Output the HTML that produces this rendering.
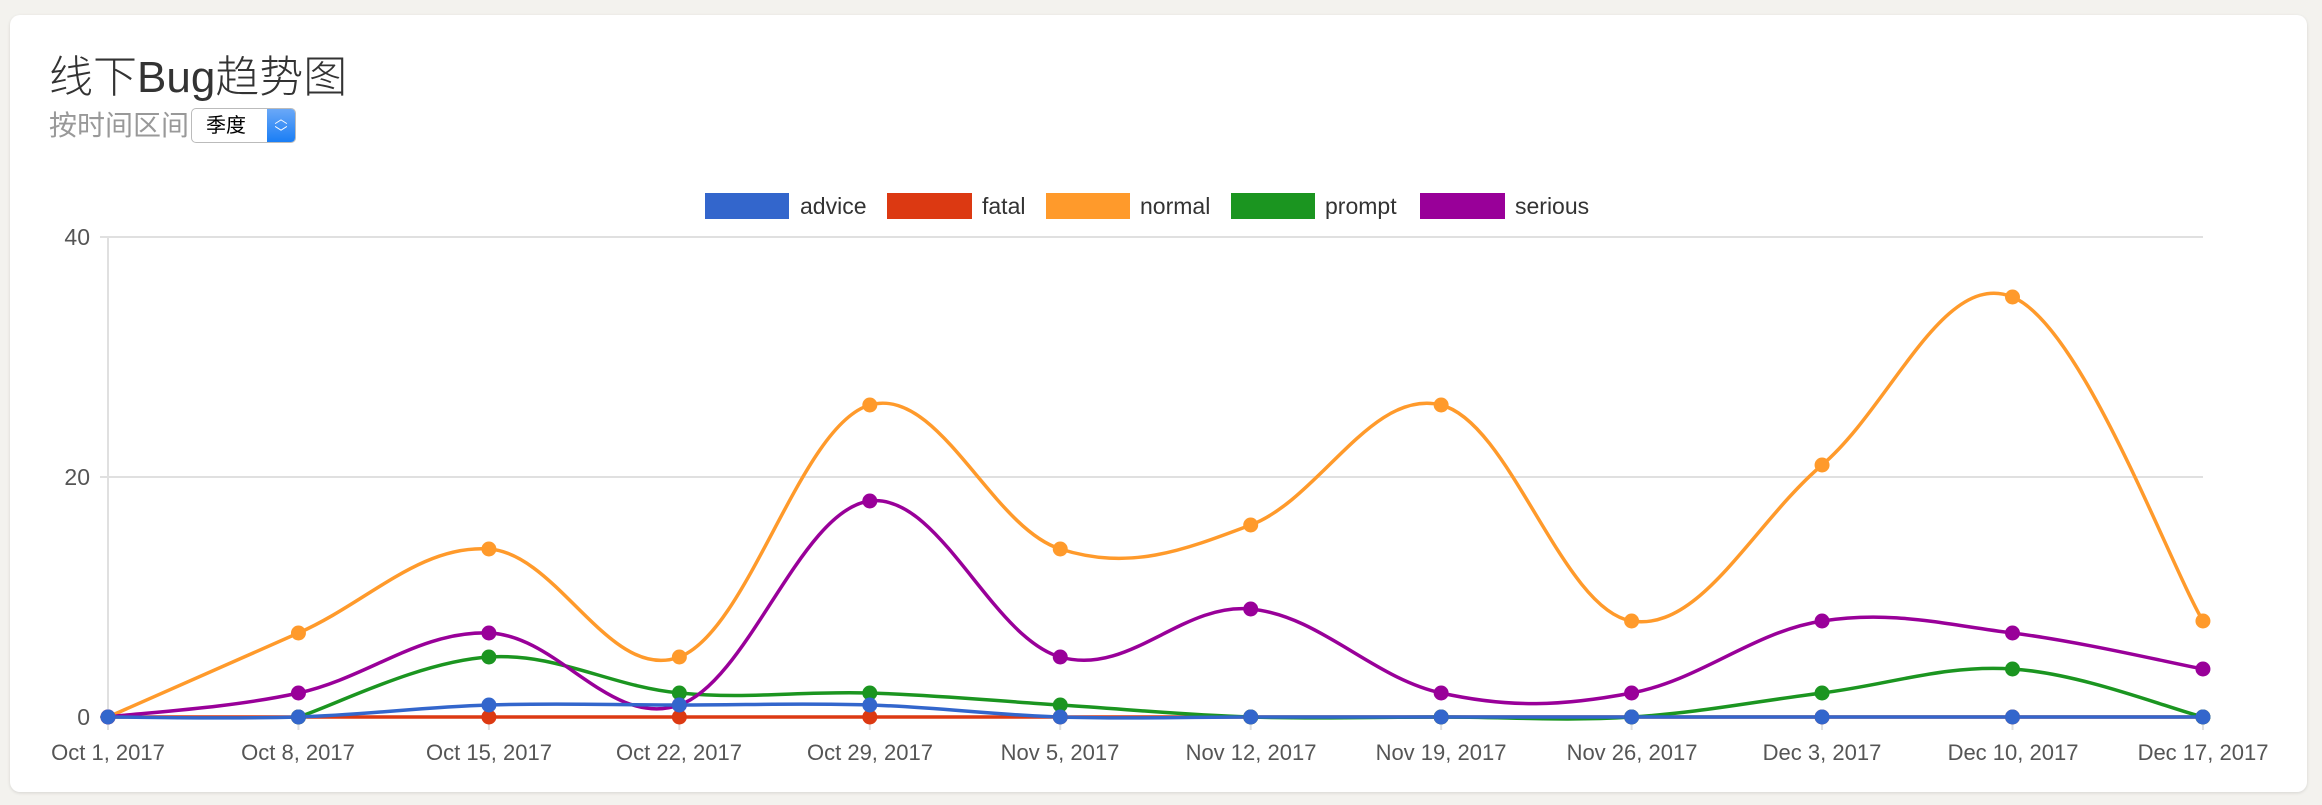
<!DOCTYPE html>
<html><head><meta charset="utf-8">
<style>
html,body{margin:0;padding:0;width:2322px;height:805px;background:#f3f2ee;overflow:hidden;font-family:"Liberation Sans","Noto Sans CJK SC",sans-serif;}
.card{position:absolute;left:10px;top:15px;width:2297px;height:777px;background:#fff;border-radius:10px;box-shadow:0 1px 3px rgba(0,0,0,0.12);}
.title{position:absolute;left:49px;top:52px;font-size:44px;color:#333;font-weight:300;line-height:52px;}
.sub{position:absolute;left:49px;top:108px;font-size:28px;color:#999;line-height:36px;}
.sel{position:absolute;left:191px;top:108px;width:105px;height:35px;border:1px solid #bbb;border-radius:5px;background:#fff;box-sizing:border-box;overflow:hidden;}
.sel span{position:absolute;left:14px;top:3px;font-size:20px;color:#000;line-height:28px;}
.sel b{position:absolute;right:0;top:0;width:28px;height:100%;background:linear-gradient(#6aa8f7,#1a7ef5);color:#fff;font-size:13px;line-height:14px;text-align:center;font-weight:normal;padding-top:3px;box-sizing:border-box;}
svg{position:absolute;left:0;top:0;}
</style></head><body>
<div class="card"></div>
<div class="title">线下Bug趋势图</div>
<div class="sub">按时间区间</div>
<div class="sel"><span>季度</span><b>︿<br>﹀</b></div>
<svg width="2322" height="805" xmlns="http://www.w3.org/2000/svg" font-family="Liberation Sans, sans-serif">
<g font-size="23" fill="#333">
<rect x="705" y="193" width="84" height="26" fill="#3366cc"/><text x="800" y="214">advice</text>
<rect x="887" y="193" width="85" height="26" fill="#dc3912"/><text x="982" y="214">fatal</text>
<rect x="1046" y="193" width="84" height="26" fill="#ff9a2b"/><text x="1140" y="214">normal</text>
<rect x="1231" y="193" width="84" height="26" fill="#1b9520"/><text x="1325" y="214">prompt</text>
<rect x="1420" y="193" width="85" height="26" fill="#990099"/><text x="1515" y="214">serious</text>
</g>
<g stroke="#e0e0e0" stroke-width="2">
<line x1="100" y1="237" x2="2203" y2="237"/>
<line x1="100" y1="477" x2="2203" y2="477"/>
<line x1="108" y1="237" x2="108" y2="730"/>
</g>
<g stroke="#e0e0e0" stroke-width="2" id="ticks"></g>
<line x1="100" y1="717" x2="2203" y2="717" stroke="#999" stroke-width="2"/>
<g font-size="23" fill="#555" text-anchor="end">
<text x="90" y="245">40</text><text x="90" y="485">20</text><text x="90" y="725">0</text>
</g>
<g font-size="22" fill="#555" text-anchor="middle">
<text x="108" y="760">Oct 1, 2017</text>
<text x="298" y="760">Oct 8, 2017</text>
<text x="489" y="760">Oct 15, 2017</text>
<text x="679" y="760">Oct 22, 2017</text>
<text x="870" y="760">Oct 29, 2017</text>
<text x="1060" y="760">Nov 5, 2017</text>
<text x="1251" y="760">Nov 12, 2017</text>
<text x="1441" y="760">Nov 19, 2017</text>
<text x="1632" y="760">Nov 26, 2017</text>
<text x="1822" y="760">Dec 3, 2017</text>
<text x="2013" y="760">Dec 10, 2017</text>
<text x="2203" y="760">Dec 17, 2017</text>
</g>
<g id="lines" fill="none" stroke-width="3.5"></g>
<g id="dots"></g>
</svg>
<script>
var X=function(i){return 108+i*190.45;},Y=function(v){return 717-v*12;};
var S=[
["#dc3912",0,[0,0,0,0,0,0,0,0,0,0,0,0]],
["#ff9a2b",0,[0,7,14,5,26,14,16,26,8,21,35,8]],
["#1b9520",1,[0,0,5,2,2,1,0,0,0,2,4,0]],
["#990099",0,[0,2,7,1,18,5,9,2,2,8,7,4]],
["#3366cc",0,[0,0,1,1,1,0,0,0,0,0,0,0]]];
var ns="http://www.w3.org/2000/svg",L=document.getElementById("lines"),D=document.getElementById("dots"),T=document.getElementById("ticks");
for(var i=1;i<12;i++){var t=document.createElementNS(ns,"line");t.setAttribute("x1",X(i));t.setAttribute("x2",X(i));t.setAttribute("y1",717);t.setAttribute("y2",730);T.appendChild(t);}
S.forEach(function(s){
 var p=[];for(var i=s[1];i<12;i++)p.push([X(i),Y(s[2][i])]);
 var d="M"+p[0][0]+","+p[0][1],k=5.5;
 for(var i=0;i<p.length-1;i++){var a=p[i-1]||p[i],b=p[i],c=p[i+1],e=p[i+2]||c;
  d+=" C"+(b[0]+(c[0]-a[0])/k)+","+(b[1]+(c[1]-a[1])/k)+" "+(c[0]-(e[0]-b[0])/k)+","+(c[1]-(e[1]-b[1])/k)+" "+c[0]+","+c[1];}
 var pa=document.createElementNS(ns,"path");pa.setAttribute("d",d);pa.setAttribute("stroke",s[0]);L.appendChild(pa);
 p.forEach(function(q){var c=document.createElementNS(ns,"circle");c.setAttribute("cx",q[0]);c.setAttribute("cy",q[1]);c.setAttribute("r",7.5);c.setAttribute("fill",s[0]);D.appendChild(c);});
});
</script>
</body></html>
